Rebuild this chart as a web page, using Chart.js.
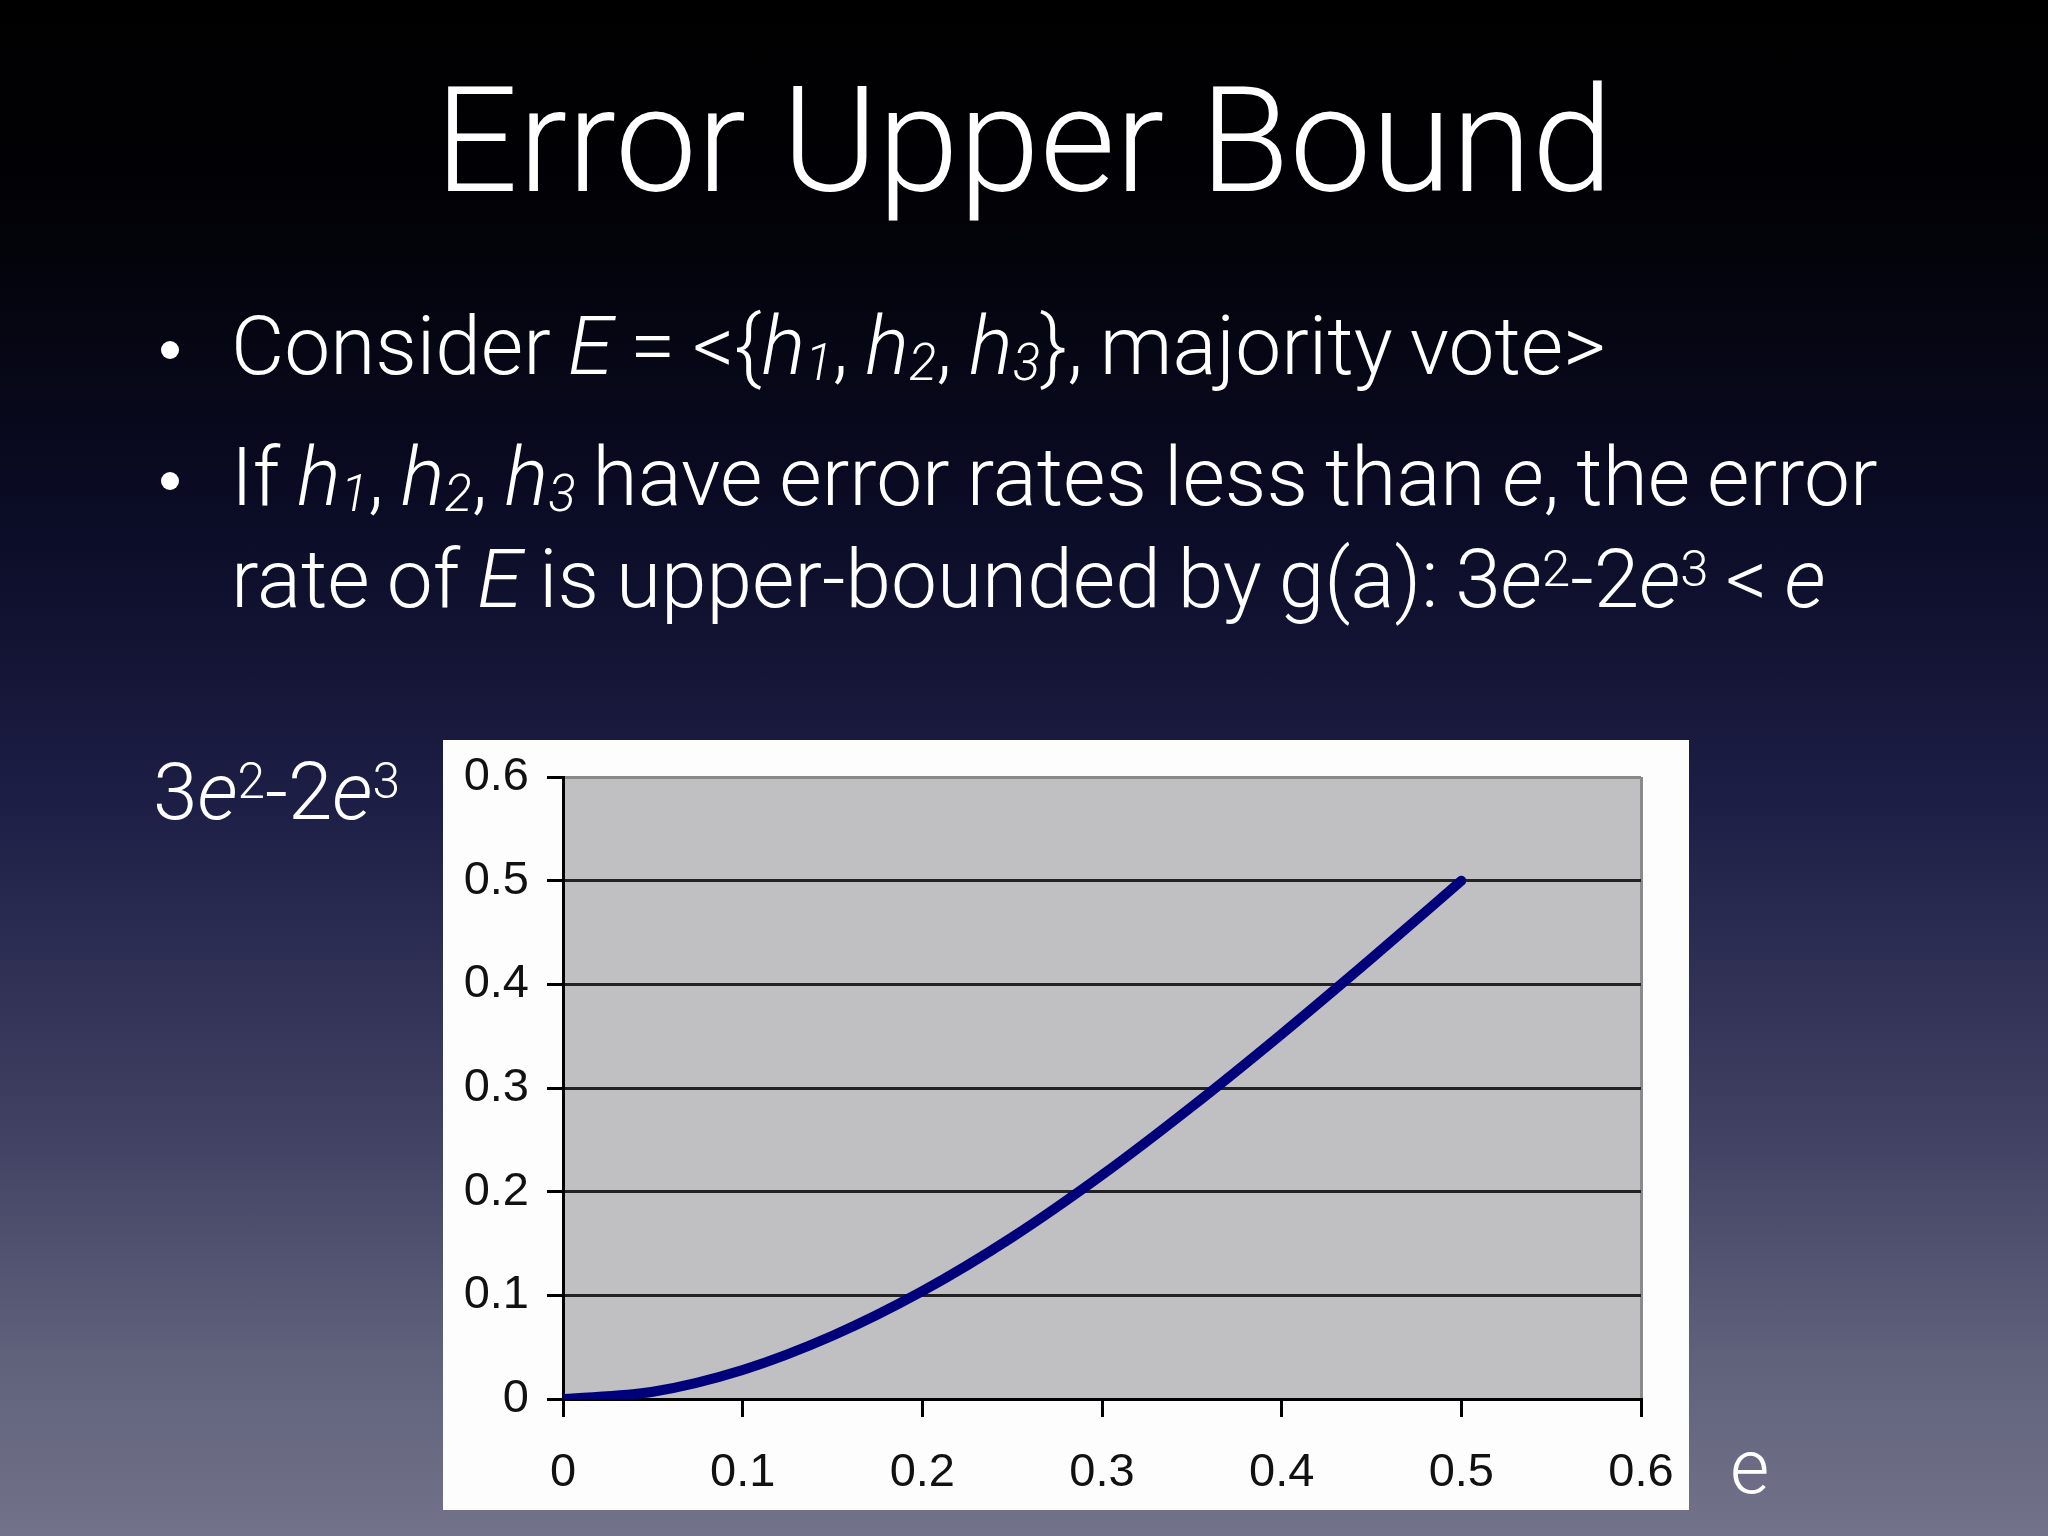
<!DOCTYPE html>
<html lang="en">
<head>
<meta charset="UTF-8">
<title>Error Upper Bound</title>
<script src="https://cdn.jsdelivr.net/npm/chart.js@4.4.0/dist/chart.umd.min.js"></script>
<style>
    body {
        margin: 0;
        width: 2048px;
        height: 1536px;
        overflow: hidden;
        position: relative;
        font-family: "Helvetica Neue", Roboto, "Liberation Sans", sans-serif;
        font-weight: 300;
        color: white;
        background: linear-gradient(to bottom, #000000 0%, #020207 14%, #0b0c26 34%, #1d1e45 52%, #3d3e60 72%, #5f607a 88%, #72738a 100%);
    }
    .title {
        position: absolute;
        left: 0;
        width: 2048px;
        top: 62px;
        text-align: center;
        font-size: 146px;
        line-height: 160px;
        white-space: nowrap;
    }
    .bullet {
        position: absolute;
        left: 0;
        font-size: 82px;
        line-height: 92px;
        white-space: nowrap;
        word-spacing: -3px;
    }
    .dot {
        position: absolute;
        left: 161px;
        width: 18px;
        height: 18px;
        border-radius: 50%;
        background: white;
    }
    .bullet .txt { position: absolute; left: 231px; }
    i { font-style: italic; }
    sub { font-size: 62%; vertical-align: -0.12em; font-style: italic; }
    sup { font-size: 62%; vertical-align: 0.42em; }
    .ylab {
        position: absolute;
        left: 153px;
        top: 736px;
        font-size: 80px;
        line-height: 90px;
        white-space: nowrap;
    }
    .xlab {
        position: absolute;
        left: 1730px;
        top: 1422px;
        font-size: 76px;
        line-height: 90px;
    }
    .chart-box {
        position: absolute;
        left: 443px;
        top: 740px;
        width: 1246px;
        height: 770px;
        background: #fdfdfd;
    }
</style>
</head>
<body>
    <div class="title">Error Upper Bound</div>

    <div class="dot" style="top:341px"></div>
    <div class="bullet" style="top:300px">
        <span class="txt">Consider <i>E</i> = &lt;{<i>h</i><sub>1</sub>, <i>h</i><sub>2</sub>, <i>h</i><sub>3</sub>}, majority vote&gt;</span>
    </div>
    <div class="dot" style="top:472px"></div>
    <div class="bullet" style="top:431px">
        <span class="txt">If <i>h</i><sub>1</sub>, <i>h</i><sub>2</sub>, <i>h</i><sub>3</sub> have error rates less than <i>e</i>, the error</span>
    </div>
    <div class="bullet" style="top:523px">
        <span class="txt">rate of <i>E</i> is upper-bounded by g(a): 3<i>e</i><sup>2</sup>-2<i>e</i><sup>3</sup> &lt; <i>e</i></span>
    </div>

    <div class="ylab">3<i>e</i><sup>2</sup>-2<i>e</i><sup>3</sup></div>
    <div class="xlab">e</div>

    <div class="chart-box">
        <canvas id="boundChart"></canvas>
    </div>

<script>
    // error rate e of each classifier, and the read-off bound of the ensemble
    const errorRates = [0, 0.05, 0.1, 0.15, 0.2, 0.25, 0.3, 0.35, 0.4, 0.45, 0.5];
    const boundValues = [0, 0.007, 0.028, 0.061, 0.104, 0.156, 0.216, 0.282, 0.352, 0.425, 0.5];

    const xTicks = [0, 0.1, 0.2, 0.3, 0.4, 0.5, 0.6];
    const yTicks = [0, 0.1, 0.2, 0.3, 0.4, 0.5, 0.6];

    const tickFont = { family: '"Liberation Sans", Arial, sans-serif', size: 47 };

    function label(v) {
        return v === 0 ? '0' : v.toFixed(1);
    }

    // gray plot background like the old spreadsheet chart
    const plotBackground = {
        id: 'plotBackground',
        beforeDraw(chart) {
            const a = chart.chartArea;
            const ctx = chart.ctx;
            ctx.save();
            ctx.fillStyle = '#c0bfc1';
            ctx.fillRect(a.left, a.top, a.right - a.left, a.bottom - a.top);
            ctx.restore();
        }
    };

    const ctx = document.getElementById('boundChart').getContext('2d');
    new Chart(ctx, {
        type: 'line',
        data: {
            datasets: [{
                data: errorRates.map((e, i) => ({ x: e, y: boundValues[i] })),
                borderColor: '#00007a',
                borderWidth: 10,
                pointRadius: 0,
                cubicInterpolationMode: 'monotone',
                borderCapStyle: 'round',
                fill: false
            }]
        },
        options: {
            responsive: true,
            maintainAspectRatio: false,
            animation: false,
            layout: { padding: { top: 37, right: 48, left: 0, bottom: 0 } },
            plugins: {
                legend: { display: false },
                tooltip: { enabled: false }
            },
            scales: {
                x: {
                    type: 'linear',
                    min: 0,
                    max: 0.6,
                    afterBuildTicks(scale) {
                        scale.ticks = xTicks.map(v => ({ value: v }));
                    },
                    afterFit(scale) {
                        scale.height = 111;
                        scale.paddingLeft = 0;
                        scale.paddingRight = 0;
                    },
                    border: { color: '#000', width: 3 },
                    grid: {
                        color: c => (c.tick && c.tick.value === 0.6) ? '#8a8a8a' : 'rgba(0,0,0,0)',
                        lineWidth: 3,
                        tickColor: '#000',
                        tickLength: 18,
                        tickWidth: 3
                    },
                    ticks: {
                        color: '#111',
                        font: tickFont,
                        padding: 28,
                        maxRotation: 0,
                        callback: v => label(v)
                    }
                },
                y: {
                    min: 0,
                    max: 0.6,
                    afterBuildTicks(scale) {
                        scale.ticks = yTicks.map(v => ({ value: v }));
                    },
                    afterFit(scale) {
                        scale.width = 120;
                        scale.paddingTop = 0;
                        scale.paddingBottom = 0;
                    },
                    border: { color: '#000', width: 3 },
                    grid: {
                        color: c => {
                            if (!c.tick) return '#222';
                            if (c.tick.value === 0.6) return '#8a8a8a';
                            return '#222';
                        },
                        lineWidth: 3,
                        tickColor: '#000',
                        tickLength: 16,
                        tickWidth: 3
                    },
                    ticks: {
                        color: '#111',
                        font: tickFont,
                        padding: 18,
                        callback: v => label(v)
                    }
                }
            }
        },
        plugins: [plotBackground]
    });
</script>
</body>
</html>
